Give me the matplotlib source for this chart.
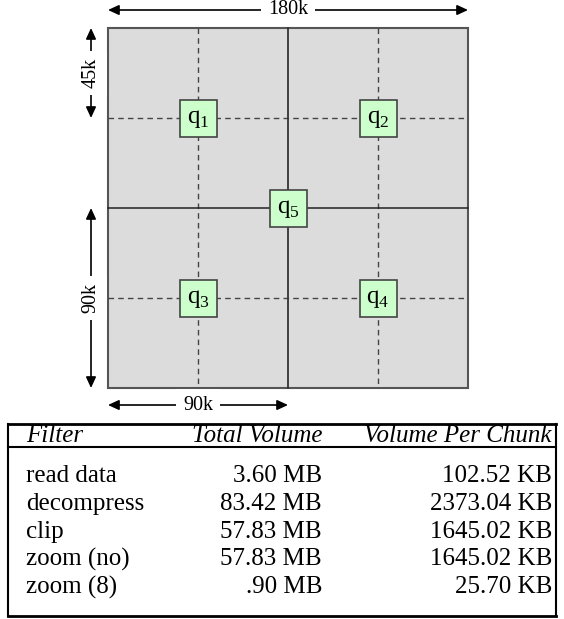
import matplotlib.pyplot as plt
from matplotlib.patches import Rectangle

plt.rcParams['font.family'] = ['Liberation Serif', 'DejaVu Serif']
plt.rcParams['mathtext.fontset'] = 'custom'
plt.rcParams['mathtext.rm'] = 'Liberation Serif'

# Grid / query layout (in k units)
grid_size = 180
tile_size = 90
query_size = 45
query_names = ['1', '2', '3', '4', '5']
query_x = [45, 135, 45, 135, 90]
query_y = [45, 45, 135, 135, 90]

# Table data
columns = ['Filter', 'Total Volume', 'Volume Per Chunk']
filters = ['read data', 'decompress', 'clip', 'zoom (no)', 'zoom (8)']
total_volume = ['3.60 MB', '83.42 MB', '57.83 MB', '57.83 MB', '.90 MB']
volume_per_chunk = ['102.52 KB', '2373.04 KB', '1645.02 KB', '1645.02 KB', '25.70 KB']

fig = plt.figure(figsize=(5.64, 6.19), dpi=100)
ax = fig.add_axes([0, 0, 1, 1])
ax.set_xlim(0, 564)
ax.set_ylim(619, 0)
ax.axis('off')

# pixel placement of the grid
x0, y0, scale = 108, 28, 2.0
def px(v):
    return x0 + v * scale
def py(v):
    return y0 + v * scale

ax.add_patch(Rectangle((px(0), py(0)), grid_size * scale, grid_size * scale,
                       facecolor='#dcdcdc', edgecolor='#555555', lw=1.5, zorder=1))

# dashed query-grid lines
for k in range(query_size, grid_size, tile_size):
    ax.plot([px(k), px(k)], [py(0), py(grid_size)], color='#444444', lw=1, ls=(0, (4, 3)), zorder=2)
    ax.plot([px(0), px(grid_size)], [py(k), py(k)], color='#444444', lw=1, ls=(0, (4, 3)), zorder=2)
# solid tile lines
for k in range(tile_size, grid_size, tile_size):
    ax.plot([px(k), px(k)], [py(0), py(grid_size)], color='#333333', lw=1.3, zorder=2)
    ax.plot([px(0), px(grid_size)], [py(k), py(k)], color='#222222', lw=1.1, zorder=2)

# query boxes
box = 37
for name, qx, qy in zip(query_names, query_x, query_y):
    cx, cy = px(qx), py(qy)
    ax.add_patch(Rectangle((cx - box / 2, cy - box / 2), box, box,
                           facecolor='#ccffcc', edgecolor='#444444', lw=1.2, zorder=3))
    ax.text(cx, cy + 1, r'$\mathrm{q}_{%s}$' % name, fontsize=18, ha='center', va='center', zorder=4)

# dimension arrows
arrow = dict(arrowstyle='<|-|>,head_length=0.65,head_width=0.3', lw=1.2, color='black',
             shrinkA=0, shrinkB=0)
def dim(xa, ya, xb, yb, label, rot=0):
    ax.annotate('', xy=(xa, ya), xytext=(xb, yb), arrowprops=arrow)
    ax.text((xa + xb) / 2, (ya + yb) / 2, label, fontsize=14.5, ha='center', va='center',
            rotation=rot, bbox=dict(facecolor='white', edgecolor='none', pad=5))

dim(px(0), 10, px(grid_size), 10, '%dk' % grid_size)
dim(91, py(0), 91, py(query_size), '%dk' % query_size, rot=90)
dim(91, py(tile_size), 91, py(grid_size), '%dk' % tile_size, rot=90)
dim(px(0), 405, px(tile_size), 405, '%dk' % tile_size)

# table
tl, tr, ttop, thead, tbot = 8, 556, 424, 447, 616
ax.plot([tl, tr], [ttop, ttop], color='black', lw=2)
ax.plot([tl, tr], [thead, thead], color='black', lw=1.5)
ax.plot([tl, tr], [tbot, tbot], color='black', lw=2)
ax.plot([tl, tl], [ttop, tbot], color='black', lw=1.5)
ax.plot([tr, tr], [ttop, tbot], color='black', lw=1.5)

col_x = [26, 322, 552]
col_ha = ['left', 'right', 'right']
for c, x, ha in zip(columns, col_x, col_ha):
    ax.text(x, 436, c, fontsize=18, style='italic', ha=ha, va='center')

row_y0, row_h = 476, 27.8
for i, row in enumerate(zip(filters, total_volume, volume_per_chunk)):
    for val, x, ha in zip(row, col_x, col_ha):
        ax.text(x, row_y0 + i * row_h, val, fontsize=18, ha=ha, va='center')

fig.savefig('out.png', dpi=100)
